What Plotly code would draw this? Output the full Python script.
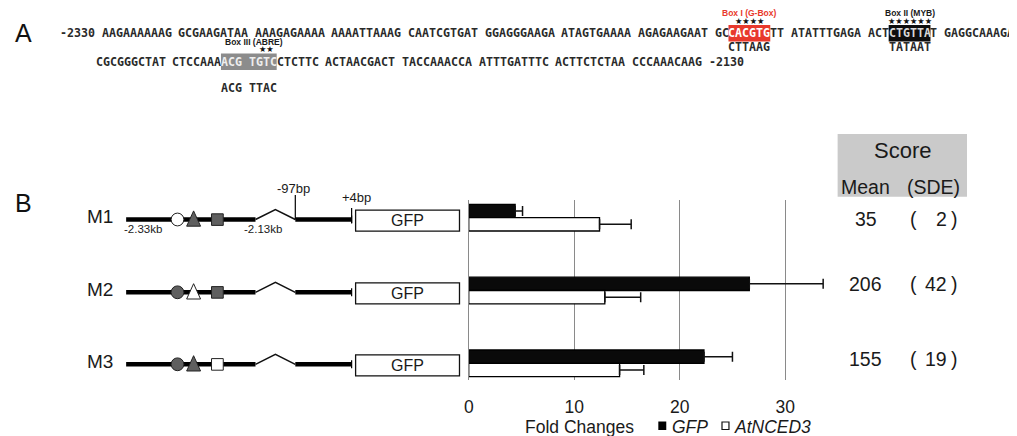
import plotly.graph_objects as go

W, H = 1017, 436
OFF = 8  # default page body margin of the written html

# ---------------- data ----------------
categories = ["M1", "M2", "M3"]
gfp_mean = [4.4, 26.6, 22.3]
gfp_err = [0.7, 7.0, 2.7]
nced_mean = [12.4, 12.9, 14.3]
nced_err = [3.0, 3.4, 2.3]
score_mean = [35, 206, 155]
score_sde = [2, 42, 19]
x_ticks = [0, 10, 20, 30]
open_motif = ["circle", "triangle", "square"]   # mutated (open) motif in each construct

seq_line1 = ("-2330 AAGAAAAAAG GCGAAGATAA AAAGAGAAAA AAAATTAAAG CAATCGTGAT GGAGGGAAGA "
             "ATAGTGAAAA AGAGAAGAAT GCCACGTGTT ATATTTGAGA ACTCTGTTAT GAGGCAAAGA")
seq_line2 = ("CGCGGGCTAT CTCCAAAACG TGTCCTCTTC ACTAACGACT TACCAAACCA ATTTGATTTC "
             "ACTTCTCTAA CCCAAACAAG -2130")
# (line, first char, last char, box label, mutated sequence, stars)
boxes = [
    (1, 96, 101, "Box I (G-Box)", "CTTAAG", "★★★★"),
    (1, 119, 124, "Box II (MYB)", "TATAAT", "★★★★★★"),
    (2, 18, 25, "Box III (ABRE)", "ACG TTAC", "★★"),
]

# ---------------- helpers ----------------
ARIAL = "Arial, Liberation Sans, sans-serif"
MONO = "DejaVu Sans Mono, monospace"
CW = 7.0          # char width (px) of sequence font
MONO_SIZE = CW / 0.602

def X(px):
    return (px - OFF) / W

def Y(py):
    return 1 - (py - OFF) / H

anns = []
shapes = []

def text(x, y, s, size, color="#1a1a1a", family=ARIAL, xanchor="center"):
    anns.append(dict(x=X(x), y=Y(y), xref="paper", yref="paper", text=s,
                     showarrow=False, xanchor=xanchor, yanchor="middle",
                     font=dict(size=size, color=color, family=family)))

def rect(x0, y0, x1, y1, fill, line="rgba(0,0,0,0)", lw=0):
    shapes.append(dict(type="rect", xref="paper", yref="paper",
                       x0=X(x0), x1=X(x1), y0=Y(y0), y1=Y(y1),
                       fillcolor=fill, line=dict(color=line, width=lw), layer="above"))

def seg(x0, y0, x1, y1, color="#000", w=1.5):
    shapes.append(dict(type="line", xref="paper", yref="paper",
                       x0=X(x0), x1=X(x1), y0=Y(y0), y1=Y(y1),
                       line=dict(color=color, width=w), layer="above"))

def path(pts, fill, line="#222", lw=1):
    d = "M " + " L ".join(f"{X(a)},{Y(b)}" for a, b in pts) + " Z"
    shapes.append(dict(type="path", xref="paper", yref="paper", path=d,
                       fillcolor=fill, line=dict(color=line, width=lw), layer="above"))

def circ(cx, cy, r, fill, line="#222", lw=1):
    shapes.append(dict(type="circle", xref="paper", yref="paper",
                       x0=X(cx - r), x1=X(cx + r), y0=Y(cy + r), y1=Y(cy - r),
                       fillcolor=fill, line=dict(color=line, width=lw), layer="above"))

# ---------------- panel A : sequence ----------------
line_cfg = {1: (55.0, 33.3), 2: (91.0, 61.7)}
box_style = {0: ("#e8392c", "white"), 1: ("#0d0d0d", "#d8d8d8"), 2: ("#8c8c8c", "#eeeeee")}
lines = {1: seq_line1, 2: seq_line2}
SEQ_COL = "#2a2a2a"

text(19, 33, "A", 25, color="#111")
text(19, 203, "B", 25, color="#111")

for ln, s in lines.items():
    x0, yy = line_cfg[ln]
    style = ["n"] * len(s)
    for bi, (bl, a, b, *_r) in enumerate(boxes):
        if bl == ln:
            for k in range(a, b + 1):
                style[k] = bi
    for bi, (bl, a, b, *_r) in enumerate(boxes):
        if bl == ln:
            rect(x0 + a * CW, yy - 8.3, x0 + (b + 1) * CW, yy + 8.3, box_style[bi][0])
    i = 0
    while i < len(s):
        if s[i] == " ":
            i += 1
            continue
        j = i
        while j < len(s) and s[j] != " " and style[j] == style[i]:
            j += 1
        col = SEQ_COL if style[i] == "n" else box_style[style[i]][1]
        text(x0 + i * CW - 2, yy, f"<b>{s[i:j]}</b>", MONO_SIZE, color=col, family=MONO,
             xanchor="left")
        i = j

for bi, (bl, a, b, label, mut, stars) in enumerate(boxes):
    x0, yy = line_cfg[bl]
    cx = x0 + (a + b + 1) / 2 * CW
    lab_col = "#e8392c" if bi == 0 else "#1a1a1a"
    text(cx + (0 if bi < 2 else 5), yy - 20, f"<b>{label}</b>", 8.5, color=lab_col)
    scx = cx if bi < 2 else x0 + 24.5 * CW
    text(scx, yy - 12.6, stars, 8.2, color="#111", family="DejaVu Sans")
    text(cx, yy + (14 if bi < 2 else 26), f"<b>{mut}</b>", MONO_SIZE, color=SEQ_COL,
         family=MONO)

# ---------------- panel B : constructs ----------------
row_y = [219.5, 292.3, 364.3]
GRAY = "#5f5f5f"
for r, cy in enumerate(row_y):
    text(95, cy - 2.5, categories[r], 19, color="#1a1a1a")
    seg(121.7, cy, 251.7, cy, w=4.5)
    shapes.append(dict(type="path", xref="paper", yref="paper",
                       path=f"M {X(251.7)},{Y(cy)} L {X(271.7)},{Y(cy-10)} L {X(291.7)},{Y(cy)}",
                       line=dict(color="#111", width=1.5), layer="above"))
    seg(291.7, cy, 348.3, cy, w=4.5)
    seg(348.3, cy - 4, 348.3, cy + 4, w=1.2)
    circ(173.3, cy, 6.4, "white" if open_motif[r] == "circle" else GRAY)
    path([(182.5, cy + 6.7), (189.5, cy - 8.6), (196.5, cy + 6.7)],
         "white" if open_motif[r] == "triangle" else GRAY)
    rect(207.5, cy - 5.7, 219.3, cy + 5.9,
         "white" if open_motif[r] == "square" else GRAY, line="#222", lw=1)
    rect(352.3, cy - 9.4, 456.7, cy + 11.6, "white", line="#111", lw=1.3)
    text(404.5, cy + 1.3, "GFP", 16, color="#1a1a1a")

text(139, 229.3, "-2.33kb", 11.5)
text(259, 229.3, "-2.13kb", 11.5)
seg(291.7, 195, 291.7, row_y[0], w=1.2)
text(290, 188.5, "-97bp", 13)
seg(348.3, 208, 348.3, 223, w=1.2)
text(353, 198, "+4bp", 13)

# ---------------- score table ----------------
rect(836.7, 134, 966.7, 196.7, "#cacaca")
text(901.7, 150.7, "Score", 22)
text(865, 187.3, "Mean", 19.5)
text(933.3, 187.3, "(SDE)", 19.5)
score_y = [219.3, 284.0, 359.3]
for r, yy in enumerate(score_y):
    text(865, yy, str(score_mean[r]), 19.5)
    text(913.3, yy, "(", 19.5)
    text(949, yy, str(score_sde[r]), 19.5, xanchor="right")
    text(954, yy, ")", 19.5)

# ---------------- bar chart ----------------
BW = 0.183
ypos = list(range(len(categories)))
fig = go.Figure()
fig.add_trace(go.Bar(
    y=ypos, x=gfp_mean, orientation="h", width=BW, offset=-BW, name="GFP",
    marker=dict(color="#0a0a0a", line=dict(color="#000", width=1.3)),
    error_x=dict(type="data", array=gfp_err, arrayminus=[0] * 3, symmetric=False,
                 color="#111", thickness=1.5, width=5),
    showlegend=False))
fig.add_trace(go.Bar(
    y=ypos, x=nced_mean, orientation="h", width=BW, offset=0, name="AtNCED3",
    marker=dict(color="white", line=dict(color="#000", width=1.3)),
    error_x=dict(type="data", array=nced_err, arrayminus=[0] * 3, symmetric=False,
                 color="#111", thickness=1.5, width=5),
    showlegend=False))

x_left, x_right, ppu = 466, 830, 10.6
y_top, y_bot = 200, 380
text(577.7, 426.5, "Fold Changes", 17.5)
rect(656.5, 421.5, 664.5, 430, "#000")
text(668, 426.5, "<i>GFP</i>", 17.5, xanchor="left")
rect(720.5, 422, 727.5, 429.5, "white", line="#111", lw=1.2)
text(731, 426.5, "<i>AtNCED3</i>", 17.5, xanchor="left")

fig.update_layout(
    width=W, height=H, margin=dict(l=0, r=0, t=0, b=0),
    paper_bgcolor="white", plot_bgcolor="white", barmode="overlay",
    xaxis=dict(domain=[X(x_left), X(x_right)], range=[0, (x_right - x_left) / ppu],
               tickvals=x_ticks, showgrid=True, gridcolor="#8a8a8a", gridwidth=1,
               zeroline=False, showline=False, ticks="", ticklabelstandoff=14,
               tickfont=dict(size=17.5, color="#1a1a1a", family=ARIAL)),
    yaxis=dict(domain=[Y(y_bot), Y(y_top)], range=[2.229, -0.243],
               showticklabels=False, showgrid=False, zeroline=False,
               showline=True, linecolor="#8a8a8a", linewidth=1),
    annotations=anns, shapes=shapes,
)
fig.write_html("out.html")
